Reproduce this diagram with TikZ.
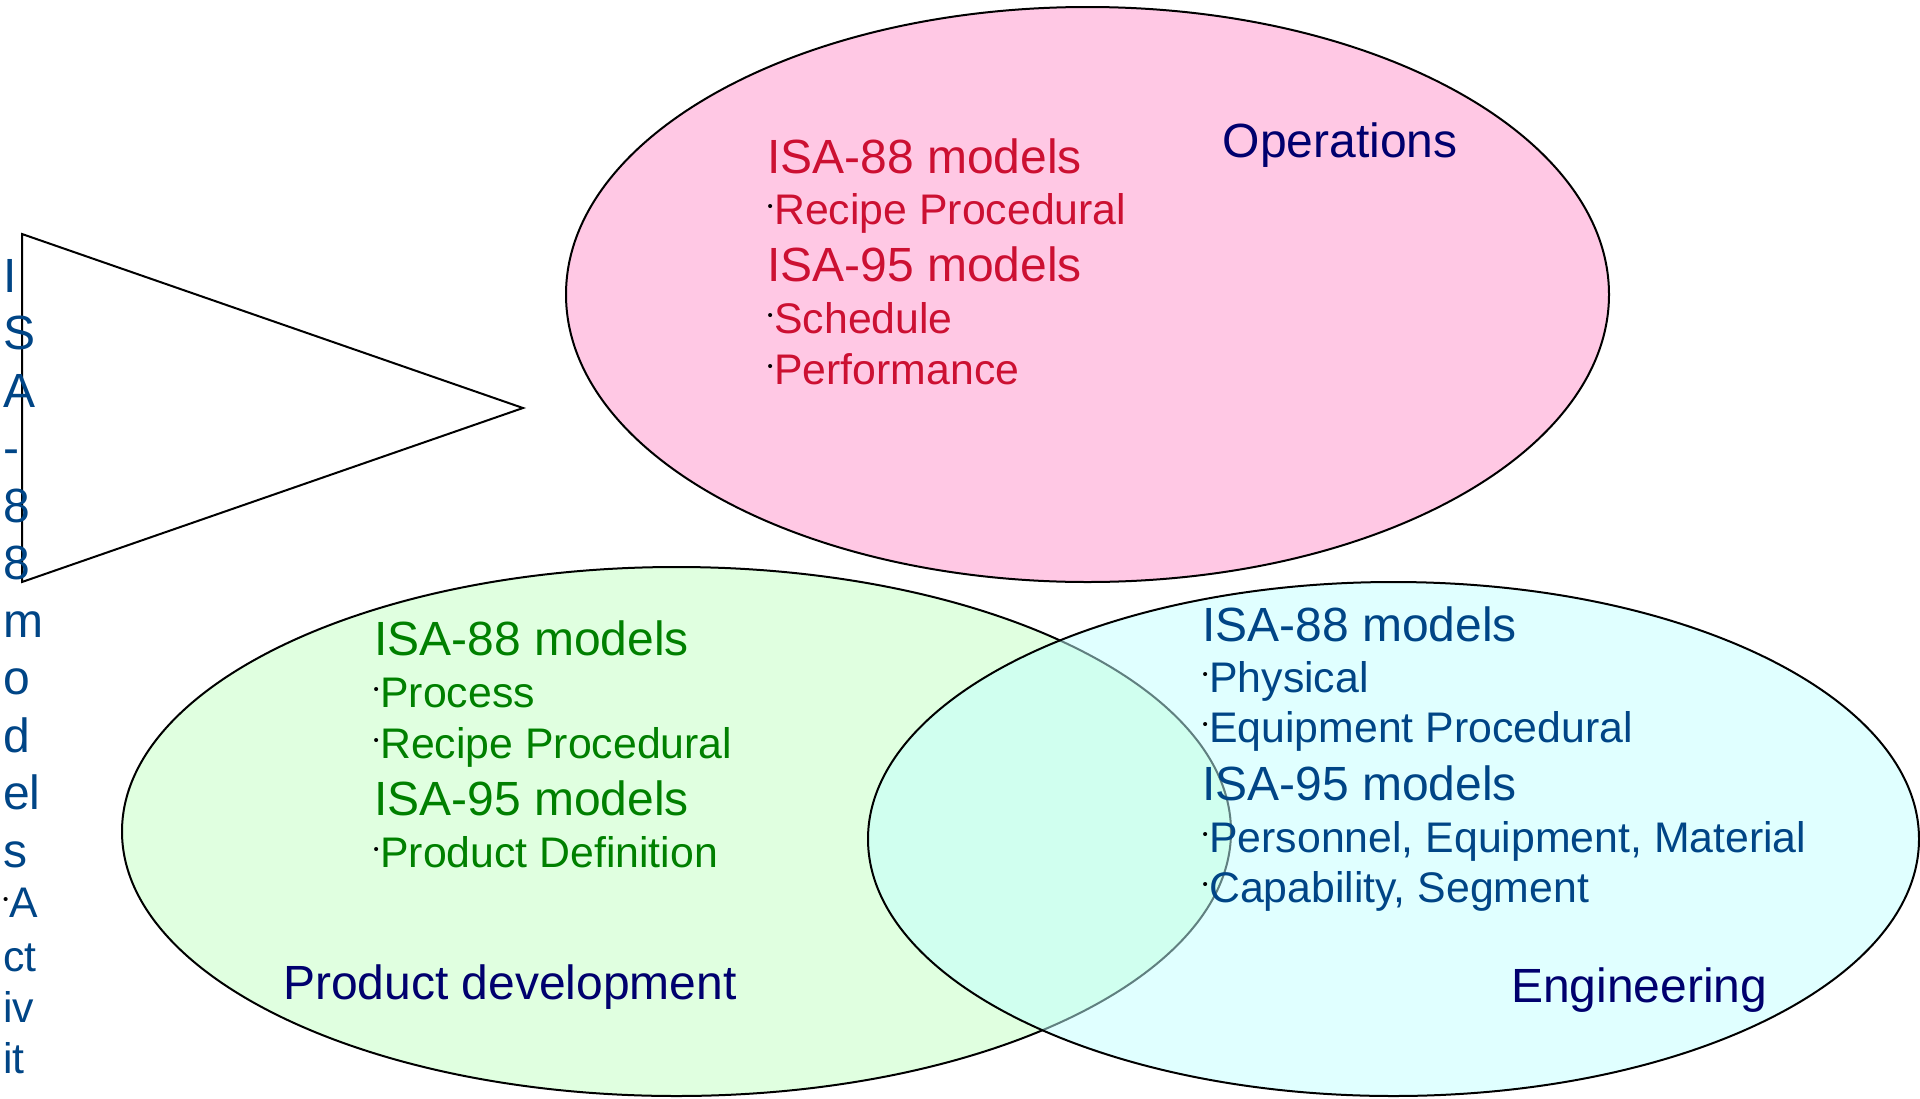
\documentclass[tikz,border=0pt]{standalone}
\usepackage{fontspec}
\setmainfont{Liberation Sans}
\definecolor{pinkfill}{RGB}{255,200,228}
\definecolor{greenfill}{RGB}{224,255,224}
\definecolor{cyanfill}{RGB}{193,255,255}
\definecolor{pinktext}{RGB}{204,16,50}
\definecolor{greentext}{RGB}{0,128,0}
\definecolor{bluetext}{RGB}{0,69,134}
\definecolor{labeltext}{RGB}{0,0,110}
\newcommand\bdot{{\color{black}\raisebox{13pt}{\fontsize{15}{15}\selectfont •}}\kern1.5pt}
\begin{document}
\begin{tikzpicture}[x=1pt,y=-1pt,
  outline/.style={draw=black,line width=2pt},
  txtbase/.style={anchor=base west,inner sep=0pt,outer sep=0pt},
  head/.style={txtbase,font=\fontsize{48}{48}\selectfont},
  item/.style={txtbase,font=\fontsize{42.8}{42.8}\selectfont},
  lab/.style={txtbase,font=\fontsize{48}{48}\selectfont,text=labeltext},
  pinkt/.style={text=pinktext},
  greent/.style={text=greentext},
  bluet/.style={text=bluetext}]
\path[use as bounding box] (0,0) rectangle (1920,1098);
% ellipses
\draw[outline,fill=pinkfill] (1087.5,294.5) ellipse [x radius=521.5pt, y radius=287.5pt];
\draw[outline,fill=greenfill] (676.5,831.5) ellipse [x radius=554.5pt, y radius=264.5pt];
\fill[cyanfill,fill opacity=0.5] (1393.5,839) ellipse [x radius=525.5pt, y radius=257pt];
\draw[outline] (1393.5,839) ellipse [x radius=525.5pt, y radius=257pt];
% triangle
\coordinate (t1) at (22,234);
\coordinate (t2) at (523,408);
\coordinate (t3) at (22,582);
\draw[line width=2pt,line join=miter] (t1) -- (t2) -- (t3) -- cycle;
% operations text
\node[head,pinkt] (p1) at (767,173) {ISA-88 models};
\node[item,pinkt] (p2) at (767.5,224) {\bdot Recipe Procedural};
\node[head,pinkt] (p3) at (767,281) {ISA-95 models};
\node[item,pinkt] (p4) at (767.5,333) {\bdot Schedule};
\node[item,pinkt] (p5) at (767.5,384) {\bdot Performance};
\node[lab] (ops) at (1222.7,157) {Operations};
% product development text
\node[head,greent] (g1) at (374,655) {ISA-88 models};
\node[item,greent] (g2) at (373.5,707) {\bdot Process};
\node[item,greent] (g3) at (373.5,758) {\bdot Recipe Procedural};
\node[head,greent] (g4) at (374,815) {ISA-95 models};
\node[item,greent] (g5) at (373.5,867) {\bdot Product Definition};
\node[lab] (pd) at (283,999) {Product development};
% engineering text
\node[head,bluet] (b1) at (1202,641) {ISA-88 models};
\node[item,bluet] (b2) at (1202.5,692) {\bdot Physical};
\node[item,bluet] (b3) at (1202.5,742) {\bdot Equipment Procedural};
\node[head,bluet] (b4) at (1202,800) {ISA-95 models};
\node[item,bluet] (b5) at (1202.5,852) {\bdot Personnel, Equipment, Material};
\node[item,bluet] (b6) at (1202.5,902) {\bdot Capability, Segment};
\node[lab] (eng) at (1511,1002) {Engineering};
% left column text
\node[head,bluet] (l1) at (3,292) {I};
\node[head,bluet] (l2) at (3,349.5) {S};
\node[head,bluet] (l3) at (3,407) {A};
\node[head,bluet] (l4) at (3,464.5) {-};
\node[head,bluet] (l5) at (3,522) {8};
\node[head,bluet] (l6) at (3,579.5) {8};
\node[head,bluet] (l7) at (3,637) {m};
\node[head,bluet] (l8) at (3,694.5) {o};
\node[head,bluet] (l9) at (3,752) {d};
\node[head,bluet] (l10) at (3,809.5) {el};
\node[head,bluet] (l11) at (3,867) {s};
\node[item,bluet] (l12) at (3,917) {\bdot A};
\node[item,bluet] (l13) at (3,971) {ct};
\node[item,bluet] (l14) at (3,1022) {iv};
\node[item,bluet] (l15) at (3,1073) {it};
\end{tikzpicture}
\end{document}
